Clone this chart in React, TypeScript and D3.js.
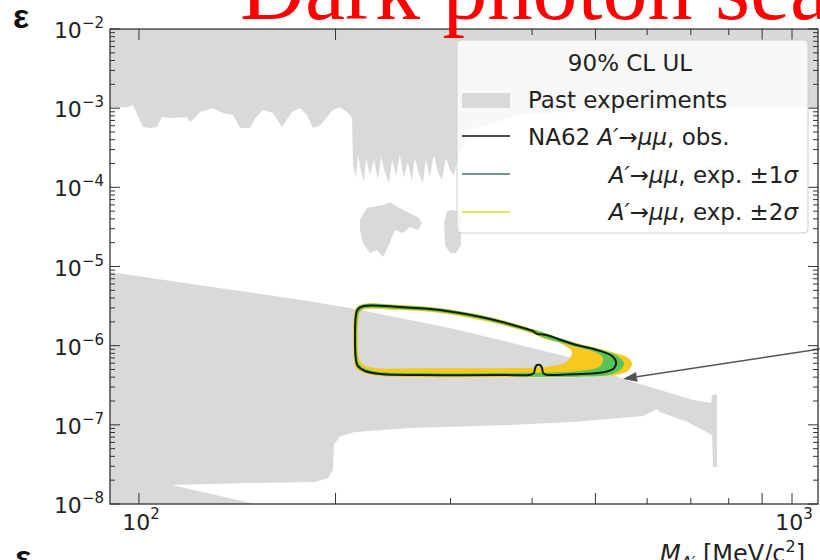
import React from 'react';
import * as d3 from 'd3';

const W = 820;
const H = 560;
const M = { left: 110, right: 818, top: 29, bottom: 504 };

// axis domains (MeV, epsilon)
const xDomain: [number, number] = [90.3, 1096];
const yDomain: [number, number] = [1e-8, 1e-2];

const xLabelTicks = [100, 1000];
const xLabelExp = ['2', '3'];
const xLongTicks = [100, 200, 500, 900, 1000];
const yLabelTicks = [1e-8, 1e-7, 1e-6, 1e-5, 1e-4, 1e-3, 1e-2];
const yLabelExp = ['−8', '−7', '−6', '−5', '−4', '−3', '−2'];

// Past experiments: lower edge of the upper excluded region [mass, eps]
const pastUpperEdge: number[][] = [
  [90.3, 1.0e-3], [91.2, 1.03e-3], [95.9, 1.03e-3], [97.9, 1.1e-3], [101.4, 5.8e-4], [104, 5.6e-4],
  [106.6, 5.8e-4], [108.4, 7.7e-4], [113.5, 7.5e-4], [118.4, 7.7e-4], [119.7, 6.7e-4], [121.8, 7.5e-4],
  [124, 8.95e-4], [129.8, 1.0e-3], [134.5, 8.7e-4], [139.3, 8.2e-4], [142.8, 5.6e-4], [147.9, 5.6e-4],
  [151.1, 7.7e-4], [154.9, 9.5e-4], [160.4, 8.7e-4], [165.6, 5.8e-4], [171.5, 8.95e-4], [176.5, 1.0e-3],
  [180.8, 8.2e-4], [184.8, 5.6e-4], [189.4, 6.1e-4], [198.2, 9.5e-4], [203.2, 1.03e-3], [208.2, 8.95e-4],
  [212, 7.5e-4],
  [212.7, 1.91e-4], [215.0, 1.31e-4], [216.4, 2.56e-4], [218.7, 1.66e-4], [221.1, 1.17e-4], [222.6, 2.35e-4],
  [225.8, 1.43e-4], [229.0, 2.21e-4], [232.3, 1.24e-4], [234.8, 2.42e-4], [238.1, 1.56e-4], [241.5, 1.13e-4],
  [244.1, 2.21e-4], [247.6, 1.39e-4], [250.9, 2.56e-4], [254.5, 1.31e-4], [258.1, 2.09e-4], [261.7, 1.2e-4],
  [264.5, 2.35e-4], [268.3, 1.47e-4], [272.1, 1.13e-4], [275.0, 2.21e-4], [278.9, 1.35e-4], [282.9, 2.56e-4],
  [286.9, 1.56e-4], [291.0, 1.24e-4], [295.2, 2.35e-4], [299.5, 1.66e-4], [303.7, 1.39e-4], [306.9, 2.21e-4],
  [321.3, 5.3e-4], [383.2, 8.2e-4], [508, 9.5e-4], [1096, 1.0e-3],
];

const pastIsland1: number[][] = [
  [218.0, 2.9e-5], [220.3, 1.98e-5], [225.8, 1.48e-5], [231.5, 1.62e-5], [236.4, 1.32e-5], [240.6, 1.76e-5],
  [246.6, 2.9e-5], [253.6, 2.65e-5], [260.0, 3.15e-5], [267.5, 2.9e-5], [271.3, 3.55e-5], [267.5, 4.2e-5],
  [257.2, 4.9e-5], [249.2, 5.65e-5], [242.3, 6.5e-5], [236.4, 6.0e-5], [223.4, 5.5e-5], [218.0, 3.9e-5],
];

const pastIsland2: number[][] = [
  [293.2, 3.65e-5], [296.3, 4.9e-5], [301.6, 5.2e-5], [306.9, 5.0e-5], [311.3, 4.48e-5],
  [311.3, 1.87e-5], [305.9, 1.48e-5], [299.5, 1.48e-5], [294.2, 1.87e-5],
];

const pastLowerBand: number[][] = [
  [90.3, 8.5e-6], [124, 5.8e-6], [176.5, 3.8e-6], [210.4, 2.99e-6], [250.9, 2.24e-6], [299.5, 1.67e-6],
  [357.1, 1.18e-6], [411.3, 8.8e-7], [462, 7.0e-7], [508.2, 5.2e-7], [551.2, 3.8e-7], [621.4, 2.84e-7],
  [705.5, 2.06e-7], [751.6, 1.89e-7], [754.2, 2.38e-7], [767.5, 2.45e-7], [767.5, 2.94e-8], [756.8, 2.94e-8],
  [754.2, 7.45e-8], [690.7, 1.09e-7], [628, 1.45e-7], [621.4, 1.58e-7], [591.4, 1.29e-7], [468.6, 1.09e-7],
  [369.9, 9.95e-8], [260, 9.1e-8], [214.2, 8.1e-8], [203.2, 7.2e-8], [198.9, 5.6e-8], [198.2, 2.69e-8],
  [194.8, 2.13e-8], [186.1, 1.9e-8], [147.9, 1.84e-8], [112.3, 1.74e-8], [150.6, 1.0e-8], [90.3, 1.0e-8],
];

// NA62 observed 90% CL contour
const obsContour: number[][] = [
  [214.9, 2.44e-6], [216.4, 2.9e-6], [221.1, 3.17e-6], [250.9, 3.08e-6], [289, 2.82e-6], [344.8, 2.17e-6],
  [383.2, 1.72e-6], [401.2, 1.53e-6], [407, 1.41e-6], [418.6, 1.37e-6], [462, 1.05e-6], [508.2, 8.6e-7],
  [530.3, 7.4e-7], [537.8, 6.2e-7], [534, 5.2e-7], [517.3, 4.65e-7], [473.5, 4.39e-7], [420.5, 4.3e-7],
  [416, 4.5e-7], [414, 5.3e-7], [411, 5.7e-7], [407, 5.7e-7], [404.5, 5.3e-7], [402.5, 4.5e-7],
  [398, 4.3e-7], [357.1, 4.26e-7], [269.3, 4.26e-7], [233.9, 4.39e-7], [221.9, 4.79e-7], [216.4, 5.5e-7],
  [214.9, 6.6e-7],
];

// expected +-2 sigma band (outer / inner boundary)
const exp2Outer: number[][] = [
  [213.5, 2.44e-6], [214.9, 2.99e-6], [220.3, 3.36e-6], [250.9, 3.27e-6], [289, 2.99e-6], [344.8, 2.3e-6],
  [401.2, 1.62e-6], [418.6, 1.45e-6], [462, 1.11e-6], [508.2, 9.1e-7], [535.9, 8.1e-7], [558.7, 7.2e-7],
  [568.9, 6.0e-7], [560.6, 4.79e-7], [535.9, 4.26e-7], [473.5, 4.08e-7], [357.1, 4.02e-7], [269.3, 4.02e-7],
  [233.9, 4.14e-7], [221.1, 4.52e-7], [214.9, 5.2e-7], [213.5, 6.6e-7],
];
const exp2Inner: number[][] = [
  [217.2, 2.37e-6], [218.7, 2.74e-6], [222.6, 2.9e-6], [250.9, 2.82e-6], [289, 2.59e-6], [344.8, 1.99e-6],
  [401.2, 1.41e-6], [418.6, 1.21e-6], [444.5, 1.05e-6], [460.4, 8.3e-7], [450.8, 6.2e-7], [426.1, 5.5e-7],
  [357.1, 5.2e-7], [269.3, 5.2e-7], [233.9, 5.2e-7], [222.6, 5.5e-7], [218.7, 6.2e-7], [217.2, 7.0e-7],
];
// expected +-1 sigma band (outer / inner boundary)
const exp1Outer: number[][] = [
  [214.2, 2.44e-6], [215.7, 2.99e-6], [220.3, 3.31e-6], [250.9, 3.22e-6], [289, 2.95e-6], [344.8, 2.27e-6],
  [401.2, 1.6e-6], [418.6, 1.43e-6], [462, 1.1e-6], [508.2, 8.95e-7], [530.3, 7.96e-7], [545.4, 7.0e-7],
  [553.1, 6.0e-7], [547.3, 5.07e-7], [526.5, 4.32e-7], [473.5, 4.08e-7], [383.2, 4.08e-7], [344.8, 4.2e-7],
  [269.3, 4.2e-7], [233.9, 4.32e-7], [221.1, 4.65e-7], [215.7, 5.4e-7], [214.2, 6.6e-7],
];
const exp1Inner: number[][] = [
  [216.4, 2.37e-6], [218, 2.74e-6], [221.9, 2.99e-6], [250.9, 2.9e-6], [289, 2.66e-6], [344.8, 2.05e-6],
  [401.2, 1.45e-6], [418.6, 1.25e-6], [462, 9.9e-7], [499.2, 8.3e-7], [513.6, 7.0e-7], [508.2, 5.5e-7],
  [473.5, 4.79e-7], [357.1, 4.52e-7], [269.3, 4.52e-7], [233.9, 4.65e-7], [222.6, 5.07e-7], [218, 5.7e-7],
  [216.4, 6.6e-7],
];

const arrowFrom = [1105, 9.1e-7];
const arrowTo = [551, 3.8e-7];

const titleText = 'Dark photon search';

const GRAY = '#d9d9d9';
const YELLOW = '#f6c820';
const GREEN = '#58c45a';
const FONT = 'DejaVu Sans, sans-serif';

export default function App() {
  const x = d3.scaleLog().domain(xDomain).range([M.left, M.right]);
  const y = d3.scaleLog().domain(yDomain).range([M.bottom, M.top]);
  const poly = d3.line<number[]>().x((d) => x(d[0])).y((d) => y(d[1])).curve(d3.curveLinearClosed);
  const smooth = d3
    .line<number[]>()
    .x((d) => x(d[0]))
    .y((d) => y(d[1]))
    .curve(d3.curveCatmullRomClosed.alpha(0.5));

  const upperRegion = [[xDomain[0], yDomain[1]], ...pastUpperEdge, [xDomain[1], yDomain[1]]];

  const xTicks = x.ticks().filter((t) => t >= xDomain[0] && t <= xDomain[1]);
  const yTicks = y.ticks();

  const ax0 = x(arrowFrom[0]);
  const ay0 = y(arrowFrom[1]);
  const ax1 = x(arrowTo[0]);
  const ay1 = y(arrowTo[1]);
  const ang = Math.atan2(ay1 - ay0, ax1 - ax0);
  const hl = 14;
  const hw = 5;
  const bx = ax1 - hl * Math.cos(ang);
  const by = ay1 - hl * Math.sin(ang);
  const head = `M${ax1},${ay1}L${bx - hw * Math.sin(ang)},${by + hw * Math.cos(ang)}L${bx + hw * Math.sin(ang)},${by - hw * Math.cos(ang)}Z`;

  const lx = 457;
  const ly = 40;
  const lw = 351;
  const lh = 193;

  return (
    <svg width={W} height={H} style={{ position: 'absolute', left: 0, top: 0, background: '#fff' }}>
      <defs>
        <clipPath id="plotClip">
          <rect x={M.left} y={M.top} width={M.right - M.left} height={M.bottom - M.top} />
        </clipPath>
      </defs>
      <rect x={0} y={0} width={W} height={H} fill="#fff" />
      <g clipPath="url(#plotClip)">
        <path d={poly(upperRegion) || ''} fill={GRAY} />
        <path d={poly(pastIsland1) || ''} fill={GRAY} />
        <path d={poly(pastIsland2) || ''} fill={GRAY} />
        <path d={poly(pastLowerBand) || ''} fill={GRAY} />
        <path d={(smooth(exp2Outer) || '') + (smooth(exp2Inner) || '')} fill={YELLOW} fillRule="evenodd" />
        <path d={(smooth(exp1Outer) || '') + (smooth(exp1Inner) || '')} fill={GREEN} fillRule="evenodd" />
        <path d={smooth(obsContour) || ''} fill="none" stroke="#102010" strokeWidth={2} />
      </g>

      {/* arrow annotation */}
      <line x1={ax0} y1={ay0} x2={bx} y2={by} stroke="#555" strokeWidth={1.6} />
      <path d={head} fill="#555" />

      {/* ticks */}
      <g stroke="#333" strokeWidth={1}>
        {xTicks.map((t, i) => {
          const len = xLongTicks.some((v) => Math.abs(v - t) < 1e-6) ? 11 : 6;
          const px = x(t);
          return (
            <g key={'xt' + i}>
              <line x1={px} x2={px} y1={M.bottom} y2={M.bottom - len} />
              <line x1={px} x2={px} y1={M.top} y2={M.top + len} />
            </g>
          );
        })}
        {yTicks.map((t, i) => {
          const major = yLabelTicks.some((v) => Math.abs(Math.log10(v) - Math.log10(t)) < 1e-6);
          const len = major ? 10 : 5;
          const py = y(t);
          return (
            <g key={'yt' + i}>
              <line x1={M.left} x2={M.left + len} y1={py} y2={py} />
              <line x1={M.right} x2={M.right - len} y1={py} y2={py} />
            </g>
          );
        })}
      </g>

      {/* spines */}
      <rect
        x={M.left}
        y={M.top}
        width={M.right - M.left}
        height={M.bottom - M.top}
        fill="none"
        stroke="#333"
        strokeWidth={1.3}
      />

      {/* tick labels */}
      <g fontFamily={FONT} fill="#222">
        {yLabelTicks.map((t, i) => (
          <text key={'yl' + i} x={104} y={y(t) + 9} fontSize={22} textAnchor="end">
            10
            <tspan fontSize={15} dy={-10}>
              {yLabelExp[i]}
            </tspan>
          </text>
        ))}
        {xLabelTicks.map((t, i) => (
          <text key={'xl' + i} x={x(t) + 2} y={530} fontSize={22} textAnchor="middle">
            10
            <tspan fontSize={15} dy={-11}>
              {xLabelExp[i]}
            </tspan>
          </text>
        ))}
        <text x={660} y={562} fontSize={24}>
          <tspan fontStyle="italic">M</tspan>
          <tspan fontSize={16} dy={6} fontStyle="italic">
            A′
          </tspan>
          <tspan dy={-6}> [MeV/c</tspan>
          <tspan fontSize={16} dy={-10}>
            2
          </tspan>
          <tspan dy={10}>]</tspan>
        </text>
      </g>

      {/* legend */}
      <rect x={lx} y={ly} width={lw} height={lh} rx={4} fill="#fff" fillOpacity={0.82} stroke="#cfcfcf" />
      <g fontFamily={FONT} fill="#222" fontSize={23}>
        <text x={630} y={71} textAnchor="middle">
          90% CL UL
        </text>
        <rect x={462} y={93} width={48} height={15} fill={GRAY} />
        <text x={528} y={108}>
          Past experiments
        </text>
        <line x1={462} x2={510} y1={136} y2={136} stroke="#111" strokeWidth={1.6} />
        <text x={528} y={145}>
          NA62 <tspan fontStyle="italic">A′</tspan>→<tspan fontStyle="italic">μμ</tspan>, obs.
        </text>
        <line x1={462} x2={510} y1={174} y2={174} stroke="#3f7466" strokeWidth={1.6} />
        <text x={798} y={183} textAnchor="end">
          <tspan fontStyle="italic">A′</tspan>→<tspan fontStyle="italic">μμ</tspan>, exp. ±1<tspan fontStyle="italic">σ</tspan>
        </text>
        <line x1={462} x2={510} y1={212} y2={212} stroke="#e2dc2a" strokeWidth={1.6} />
        <text x={798} y={220} textAnchor="end">
          <tspan fontStyle="italic">A′</tspan>→<tspan fontStyle="italic">μμ</tspan>, exp. ±2<tspan fontStyle="italic">σ</tspan>
        </text>
      </g>

      {/* slide overlay texts */}
      <text x={13} y={28} fontFamily="Liberation Sans, Arial, sans-serif" fontWeight="bold" fontSize={34} fill="#111">
        ε
      </text>
      <text x={15} y={569} fontFamily="Liberation Sans, Arial, sans-serif" fontWeight="bold" fontSize={34} fill="#111">
        ε
      </text>
      <text x={240} y={19} fontFamily="Liberation Serif, Times New Roman, serif" fontSize={90} fill="#ff0000">
        {titleText}
      </text>
    </svg>
  );
}
